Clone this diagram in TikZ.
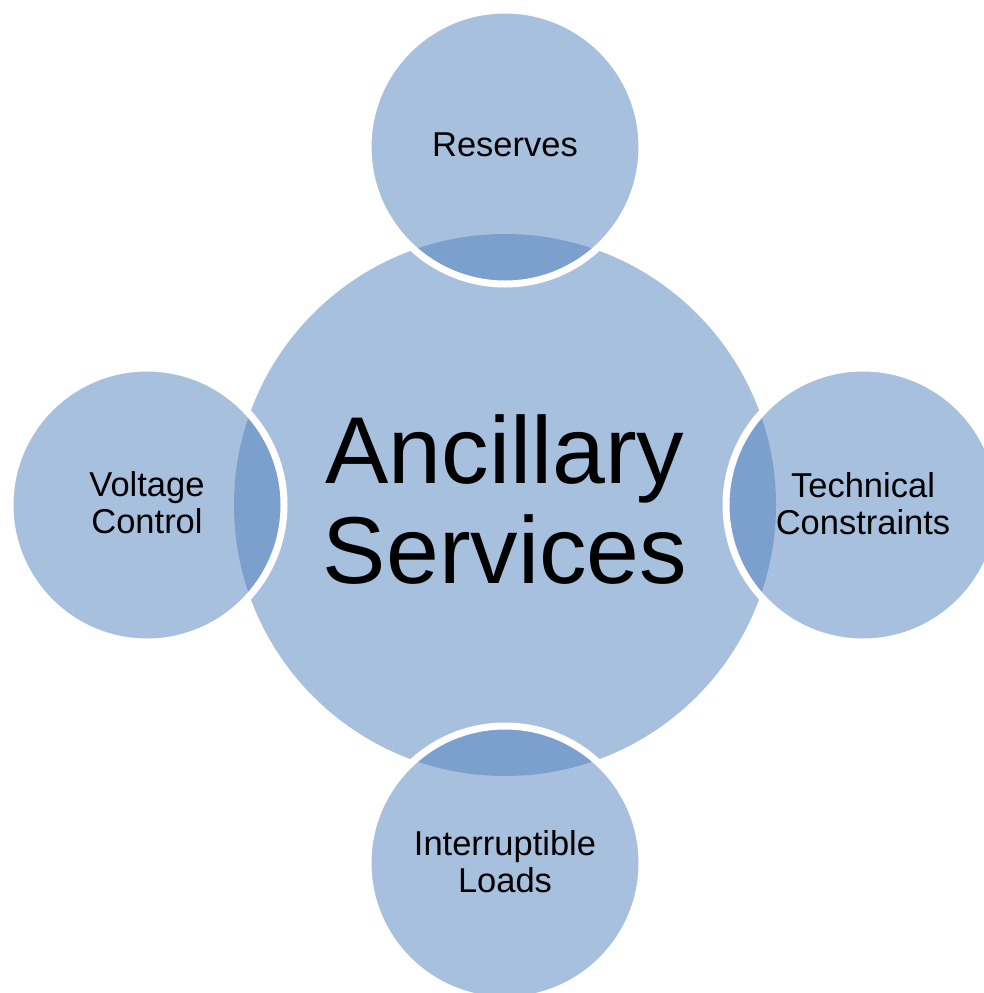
\documentclass[tikz,border=0pt]{standalone}
\usepackage{fontspec}
\setmainfont{Liberation Sans}
\definecolor{lightblue}{RGB}{167,192,222}
\definecolor{darkblue}{RGB}{124,160,205}
\tikzset{
  bigtext/.style={align=center, font=\fontsize{95}{100}\selectfont, text=black, inner sep=0pt},
  smalltext/.style={align=center, font=\fontsize{34.5}{37}\selectfont, text=black, inner sep=0pt},
  ring/.style={draw=white, line width=7pt}
}
\begin{document}
\begin{tikzpicture}[x=1pt,y=-1pt]
\useasboundingbox (0,0) rectangle (984,993);
\clip (0,0) rectangle (984,993);
% centres
\coordinate (cc) at (505,505);
\coordinate (ct) at (505,147);
\coordinate (cb) at (505,863);
\coordinate (cl) at (147,505);
\coordinate (cr) at (863,505);
% central circle
\fill[lightblue] (cc) circle (271pt);
% satellites
\foreach \p in {ct,cb,cl,cr}{
  \fill[lightblue] (\p) circle (137pt);
  \begin{scope}
    \clip (\p) circle (137pt);
    \fill[darkblue] (cc) circle (271pt);
  \end{scope}
  \draw[ring] (\p) circle (137pt);
}
% texts
\node[bigtext] (center) at (505,499.5) {Ancillary\\Services};
\node[smalltext] (reserves) at (505,145) {Reserves};
\node[smalltext] (technical) at (863,503.5) {Technical\\Constraints};
\node[smalltext] (voltage) at (147,503) {Voltage\\Control};
\node[smalltext] (interrupt) at (505,862) {Interruptible\\Loads};
\end{tikzpicture}
\end{document}
